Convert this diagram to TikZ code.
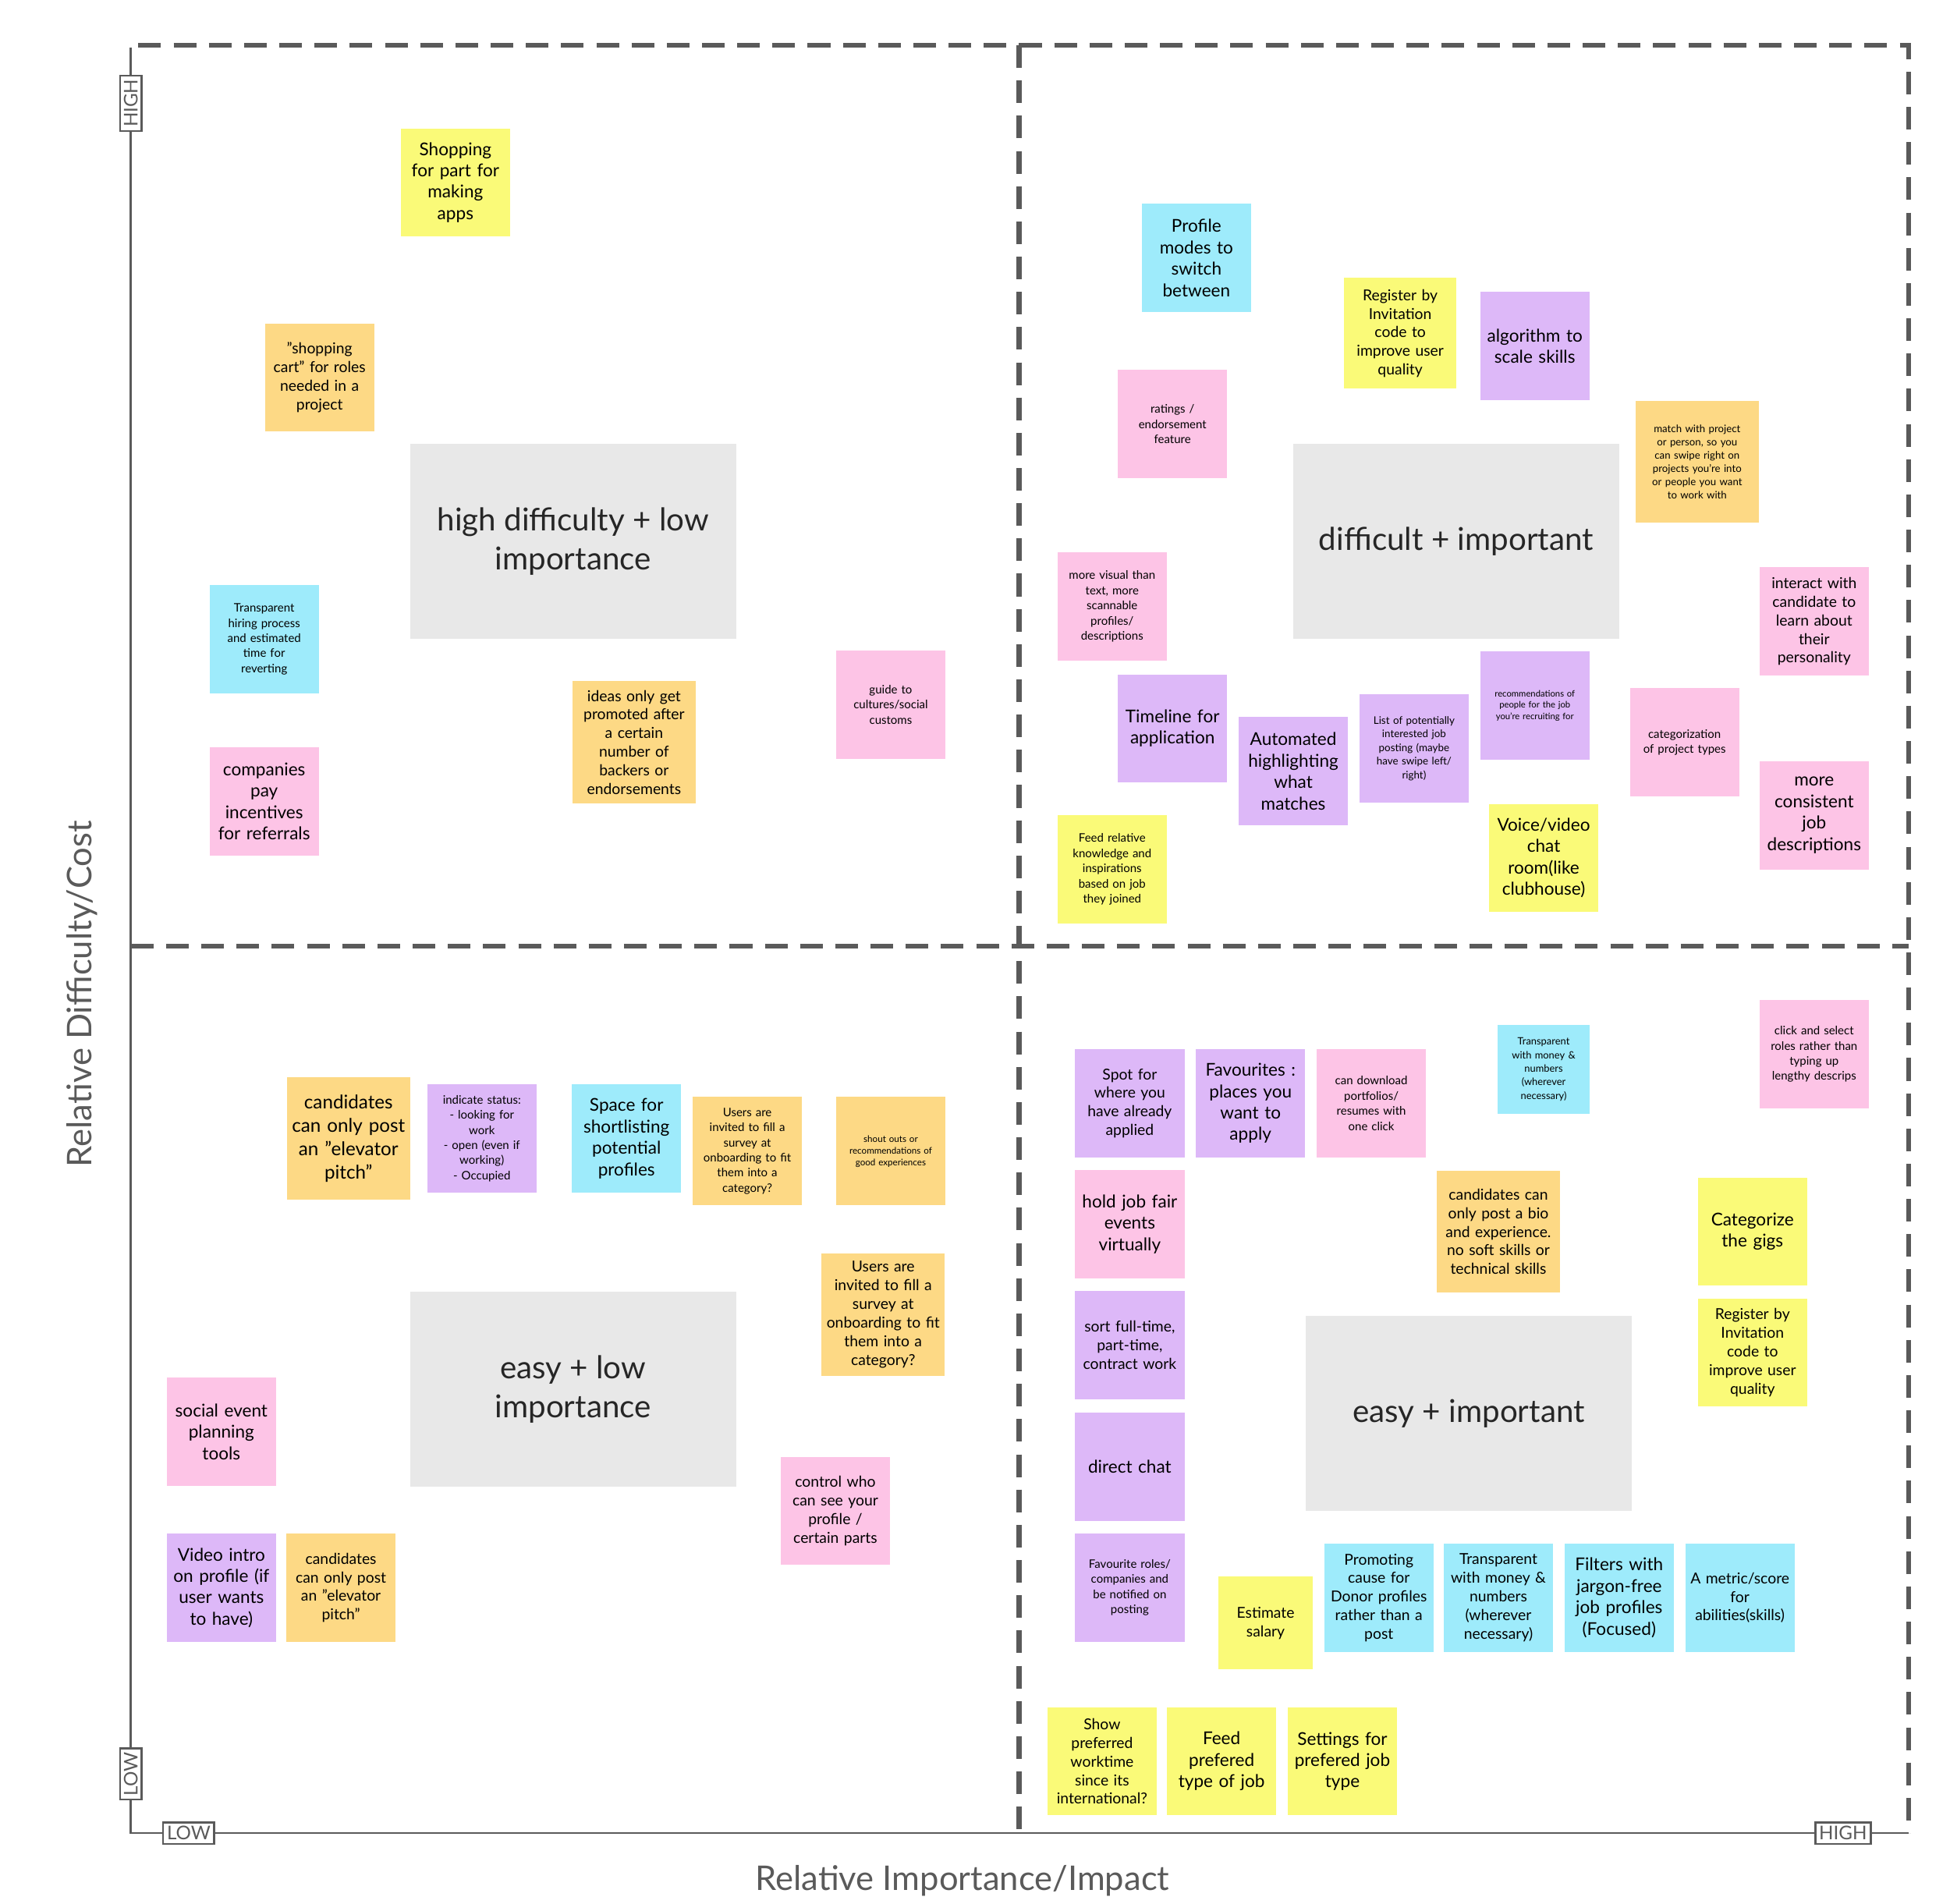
\documentclass[tikz,border=0pt]{standalone}
\usepackage{fontspec}
\setmainfont{Lato}
\definecolor{yel}{HTML}{FAFA78}
\definecolor{ora}{HTML}{FDD985}
\definecolor{pin}{HTML}{FDC4E6}
\definecolor{pur}{HTML}{DDB8F8}
\definecolor{blu}{HTML}{9EEBFB}
\definecolor{gbox}{HTML}{E8E8E8}
\definecolor{axc}{HTML}{5A5A5A}
\tikzset{
 sticky/.style={minimum width=86pt,minimum height=86pt,inner sep=1pt,align=center,text width=85pt,text=black},
 nf/.style={font=\fontsize{14}{17}\selectfont},
 sf/.style={font=\fontsize{12}{14.8}\selectfont},
 tf/.style={font=\fontsize{9.3}{12}\selectfont},
 big/.style={minimum width=97pt,minimum height=97pt,text width=96pt},
 gbx/.style={fill=gbox,minimum width=259pt,minimum height=155pt,align=center,font=\fontsize{25}{31}\selectfont,text=black!85},
 dsh/.style={draw=axc,line width=4pt,dash pattern=on 18pt off 10pt},
 axl/.style={draw=axc,line width=1.8pt},
 tag/.style={draw=axc,line width=1.5pt,fill=white,text=axc,font=\fontsize{15}{17}\selectfont,inner sep=3pt}
}
\begin{document}
\begin{tikzpicture}[x=1pt,y=-1pt]
\useasboundingbox[fill=white] (0,0) rectangle (1550,1513);
% dashed frame
\coordinate (tl) at (110,36); \coordinate (tr) at (1517,36);
\coordinate (br) at (1517,1457); \coordinate (mt) at (810,36);
\coordinate (mb) at (810,1457); \coordinate (ml) at (104,752); \coordinate (mr) at (1517,752);
\draw[dsh] (tl) -- (tr) -- (br);
\draw[dsh] (mt) -- (mb);
\draw[dsh] (ml) -- (mr);
% axes
\coordinate (o) at (104,1457); \coordinate (yt) at (104,38); \coordinate (xe) at (1517,1457);
\draw[axl] (yt) -- (o) -- (xe);
\node[tag,rotate=90] (hi) at (104,82) {HIGH};
\node[tag,rotate=90] (lo) at (104,1410) {LOW};
\node[tag] (lox) at (150,1457) {LOW};
\node[tag] (hix) at (1465,1457) {HIGH};
\node[rotate=90,text=axc,font=\fontsize{27}{30}\selectfont] (ytitle) at (65,790) {Relative Difficulty/Cost};
\node[text=axc,font=\fontsize{27}{30}\selectfont] (xtitle) at (765,1495) {Relative Importance/Impact};
% gray boxes
\node[gbx] (g1) at (455.5,430.5) {high difficulty + low\\importance};
\node[gbx] (g2) at (1157.5,430.5) {difficult + important};
\node[gbx] (g3) at (455.5,1104.5) {easy + low\\importance};
\node[gbx] (g4) at (1167.5,1123.5) {easy + important};
% stickies
\node[sticky,nf,fill=yel] (s1) at (362,145) {Shopping\\for part for\\making\\apps};
\node[sticky,sf,fill=ora] (s2) at (254,300) {\symbol{34}shopping\\cart\symbol{34} for roles\\needed in a\\project};
\node[sticky,tf,fill=blu] (s3) at (210,508) {Transparent\\hiring process\\and estimated\\time for\\reverting};
\node[sticky,nf,fill=pin] (s4) at (210,637) {companies\\pay\\incentives\\for referrals};
\node[sticky,big,sf,fill=ora] (s5) at (504,590) {ideas only get\\promoted after\\a certain\\number of\\backers or\\endorsements};
\node[sticky,tf,fill=pin] (s6) at (708,560) {guide to\\cultures/social\\customs};
\node[sticky,nf,fill=blu] (s7) at (951,205) {Profile\\modes to\\switch\\between};
\node[sticky,sf,fill=yel,minimum width=89pt,minimum height=88pt] (s8) at (1113,265) {Register by\\Invitation\\code to\\improve user\\quality};
\node[sticky,nf,fill=pur] (s9) at (1220,275) {algorithm to\\scale skills};
\node[sticky,tf,fill=pin] (s10) at (932,337) {ratings /\\endorsement\\feature};
\node[sticky,big,fill=ora,font=\fontsize{8.2}{10.6}\selectfont] (s11) at (1349,367) {match with project\\or person, so you\\can swipe right on\\projects you're into\\or people you want\\to work with};
\node[sticky,tf,fill=pin] (s12) at (884,482) {more visual than\\text, more\\scannable\\profiles/\\descriptions};
\node[sticky,sf,fill=pin] (s13) at (1442,494) {interact with\\candidate to\\learn about\\their\\personality};
\node[sticky,nf,fill=pur] (s14) at (932,579) {Timeline for\\application};
\node[sticky,nf,fill=pur] (s15) at (1028,613) {Automated\\highlighting\\what\\matches};
\node[sticky,fill=pur,font=\fontsize{8.3}{10.8}\selectfont] (s16) at (1124,595) {List of potentially\\interested job\\posting (maybe\\have swipe left/\\right)};
\node[sticky,fill=pur,font=\fontsize{7}{9}\selectfont] (s17) at (1220,561) {recommendations of\\people for the job\\you're recruiting for};
\node[sticky,tf,fill=pin] (s18) at (1339,590) {categorization\\of project types};
\node[sticky,nf,fill=pin] (s19) at (1442,648) {more\\consistent\\job\\descriptions};
\node[sticky,tf,fill=yel] (s20) at (884,691) {Feed relative\\knowledge and\\inspirations\\based on job\\they joined};
\node[sticky,nf,fill=yel] (s21) at (1227,682) {Voice/video\\chat\\room(like\\clubhouse)};
\node[sticky,big,fill=ora,font=\fontsize{15}{18.5}\selectfont] (s22) at (277,905) {candidates\\can only post\\an \symbol{34}elevator\\pitch\symbol{34}};
\node[sticky,tf,fill=pur] (s23) at (383,905) {indicate status:\\- looking for\\work\\- open (even if\\working)\\- Occupied};
\node[sticky,nf,fill=blu] (s24) at (498,905) {Space for\\shortlisting\\potential\\profiles};
\node[sticky,tf,fill=ora] (s25) at (594,915) {Users are\\invited to fill a\\survey at\\onboarding to fit\\them into a\\category?};
\node[sticky,fill=ora,font=\fontsize{7.2}{9.3}\selectfont] (s26) at (708,915) {shout outs or\\recommendations of\\good experiences};
\node[sticky,big,sf,fill=ora] (s27) at (702,1045) {Users are\\invited to fill a\\survey at\\onboarding to fit\\them into a\\category?};
\node[sticky,nf,fill=pin] (s28) at (176,1138) {social event\\planning\\tools};
\node[sticky,sf,fill=pin] (s29) at (664,1201) {control who\\can see your\\profile /\\certain parts};
\node[sticky,nf,fill=pur] (s30) at (176,1262) {Video intro\\on profile (if\\user wants\\to have)};
\node[sticky,sf,fill=ora] (s31) at (271,1262) {candidates\\can only post\\an \symbol{34}elevator\\pitch\symbol{34}};
\node[sticky,sf,fill=pur] (s32) at (898,877) {Spot for\\where you\\have already\\applied};
\node[sticky,nf,fill=pur] (s33) at (994,877) {Favourites :\\places you\\want to\\apply};
\node[sticky,tf,fill=pin] (s34) at (1090,877) {can download\\portfolios/\\resumes with\\one click};
\node[sticky,fill=blu,minimum width=72pt,minimum height=71pt,text width=71pt,font=\fontsize{8}{10.8}\selectfont] (s35) at (1227,850) {Transparent\\with money \&\\numbers\\(wherever\\necessary)};
\node[sticky,tf,fill=pin] (s36) at (1442,838) {click and select\\roles rather than\\typing up\\lengthy descrips};
\node[sticky,nf,fill=pin] (s37) at (898,973) {hold job fair\\events\\virtually};
\node[sticky,big,sf,fill=ora] (s38) at (1191,979) {candidates can\\only post a bio\\and experience.\\no soft skills or\\technical skills};
\node[sticky,nf,fill=yel] (s39) at (1393,979) {Categorize\\the gigs};
\node[sticky,sf,fill=pur] (s40) at (898,1069) {sort full-time,\\part-time,\\contract work};
\node[sticky,sf,fill=yel] (s41) at (1393,1075) {Register by\\Invitation\\code to\\improve user\\quality};
\node[sticky,nf,fill=pur] (s42) at (898,1166) {direct chat};
\node[sticky,tf,fill=pur] (s43) at (898,1262) {Favourite roles/\\companies and\\be notified on\\posting};
\node[sticky,sf,fill=yel,minimum width=74pt,minimum height=74pt,text width=73pt] (s44) at (1006,1290) {Estimate\\salary};
\node[sticky,sf,fill=blu] (s45) at (1096,1270) {Promoting\\cause for\\Donor profiles\\rather than a\\post};
\node[sticky,sf,fill=blu] (s46) at (1191,1270) {Transparent\\with money \&\\numbers\\(wherever\\necessary)};
\node[sticky,nf,fill=blu] (s47) at (1287,1270) {Filters with\\jargon-free\\job profiles\\(Focused)};
\node[sticky,sf,fill=blu] (s48) at (1383,1270) {A metric/score\\for\\abilities(skills)};
\node[sticky,sf,fill=yel] (s49) at (876,1400) {Show\\preferred\\worktime\\since its\\international?};
\node[sticky,nf,fill=yel] (s50) at (971,1400) {Feed\\prefered\\type of job};
\node[sticky,nf,fill=yel] (s51) at (1067,1400) {Settings for\\prefered job\\type};
\end{tikzpicture}
\end{document}
